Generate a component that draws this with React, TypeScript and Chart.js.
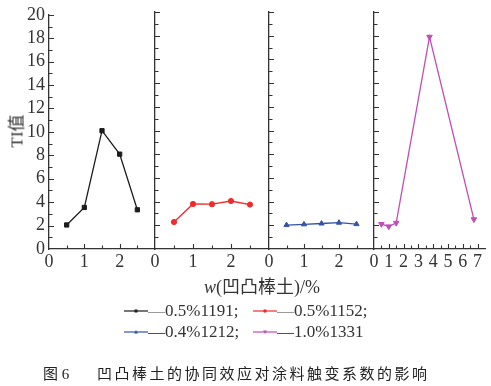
import React, { useEffect, useRef } from "react";
import { Chart, registerables } from "chart.js";
Chart.register(...registerables);

// ---------- data ----------
const SERIES_NAMES = ["0.5%1191", "0.5%1152", "0.4%1212", "1.0%1331"];
const X1 = [0.5, 1, 1.5, 2, 2.5];
const Y1 = [2.05, 3.55, 10.1, 8.1, 3.35];
const X2 = [0.5, 1, 1.5, 2, 2.5];
const Y2 = [2.28, 3.8, 3.78, 4.05, 3.75];
const X3 = [0.5, 1, 1.5, 2, 2.5];
const Y3 = [2.02, 2.08, 2.15, 2.22, 2.1];
const X4 = [0.5, 1, 1.5, 3.75, 6.75];
const Y4 = [2.1, 1.9, 2.2, 17.9, 2.5];
const XS = [X1, X2, X3, X4];
const YS = [Y1, Y2, Y3, Y4];

const X_MAX = [3, 3, 3, 7.5];
const X_LABELS = [
  [0, 1, 2],
  [0, 1, 2],
  [0, 1, 2],
  [0, 1, 2, 3, 4, 5, 6, 7],
];
const X_TICKMARKS = [
  [0.5, 1, 1.5, 2, 2.5],
  [0.5, 1, 1.5, 2, 2.5],
  [0.5, 1, 1.5, 2, 2.5],
  [0.5, 1, 1.5, 2, 2.5, 3, 3.5, 4, 4.5, 5, 5.5, 6, 6.5, 7],
];
const Y_MIN = 0;
const Y_MAX = 20;
const Y_STEP = 2;
const Y_TICKMARKS = [1, 2, 3, 4, 5, 6, 7, 8, 9, 10, 11, 12, 13, 14, 15, 16, 17, 18, 19, 20];

const Y_TITLE = "TI值";
const X_TITLE_ITALIC = "w";
const X_TITLE_REST = "(凹凸棒土)/%";
const CAPTION_NUM = "图 6";
const CAPTION_TEXT = "凹凸棒土的协同效应对涂料触变系数的影响";

// ---------- styles ----------
const W = 491;
const H = 386;
const PANEL_LEFT = [49, 155, 269, 374];
const PANEL_RIGHT = [155, 269, 374, 485];
const PLOT_TOP = 12;
const PLOT_BOTTOM = 249;
const COLORS = ["#1c1c1c", "#ef2b2b", "#3553a8", "#c24cb9"];
const POINT_STYLES = ["rect", "circle", "triangle", "triangle"];
const POINT_ROT = [0, 0, 0, 180];
const POINT_R = [3, 2.6, 3, 3.2];
const AXIS = "#333333";
const SERIF = "'Liberation Serif', 'Times New Roman', serif";
const CJK = "'Liberation Serif', 'Noto Sans CJK SC', sans-serif";

const inTicks = {
  id: "inTicks",
  afterDraw(chart: any, _args: any, opts: any) {
    const { ctx, chartArea } = chart;
    const xs = chart.scales.x;
    const ys = chart.scales.y;
    ctx.save();
    ctx.strokeStyle = AXIS;
    ctx.lineWidth = 1.1;
    ctx.beginPath();
    for (const v of opts.xTicks as number[]) {
      const px = Math.round(xs.getPixelForValue(v)) + 0.5;
      const len = Number.isInteger(v) ? 5 : 3.5;
      ctx.moveTo(px, chartArea.bottom);
      ctx.lineTo(px, chartArea.bottom - len);
    }
    for (const v of Y_TICKMARKS) {
      const py = Math.round(ys.getPixelForValue(v)) + 0.5;
      const len = v % 2 === 0 ? 5 : 3.5;
      ctx.moveTo(chartArea.left, py);
      ctx.lineTo(chartArea.left + len, py);
    }
    ctx.stroke();
    ctx.restore();
  },
};

function PanelChart({ idx }: { idx: number }) {
  const ref = useRef<HTMLCanvasElement>(null);
  useEffect(() => {
    const left = PANEL_LEFT[idx];
    const right = PANEL_RIGHT[idx];
    const yW = idx === 0 ? 49 : 2;
    const tickFont = { family: SERIF, size: 18 };
    const chart = new Chart(ref.current as HTMLCanvasElement, {
      type: "line",
      data: {
        datasets: [
          {
            label: SERIES_NAMES[idx],
            data: XS[idx].map((x, i) => ({ x, y: YS[idx][i] })),
            borderColor: COLORS[idx],
            backgroundColor: COLORS[idx],
            pointBackgroundColor: COLORS[idx],
            pointBorderColor: COLORS[idx],
            pointStyle: POINT_STYLES[idx] as any,
            pointRotation: POINT_ROT[idx],
            pointRadius: POINT_R[idx],
            pointBorderWidth: 1,
            borderWidth: 1.3,
            tension: 0,
            fill: false,
          },
        ],
      },
      options: {
        responsive: false,
        animation: false,
        events: [],
        layout: { padding: { left: left - yW, right: W - right, top: PLOT_TOP, bottom: 0 } },
        plugins: {
          legend: { display: false },
          tooltip: { enabled: false },
          inTicks: { xTicks: X_TICKMARKS[idx] },
        } as any,
        scales: {
          x: {
            type: "linear",
            min: 0,
            max: X_MAX[idx],
            grid: { display: false, drawTicks: false },
            border: { display: true, color: AXIS, width: 1.3 },
            ticks: { font: tickFont, color: "#333", padding: 2, autoSkip: false, maxRotation: 0 },
            afterBuildTicks: (s: any) => {
              s.ticks = X_LABELS[idx].map((v) => ({ value: v }));
            },
            afterFit: (s: any) => {
              s.height = H - PLOT_BOTTOM;
            },
          },
          y: {
            type: "linear",
            min: Y_MIN,
            max: Y_MAX,
            grid: { display: false, drawTicks: false },
            border: { display: true, color: AXIS, width: 1.3 },
            ticks: {
              display: idx === 0,
              stepSize: Y_STEP,
              autoSkip: false,
              font: tickFont,
              color: "#333",
              padding: 4,
            },
            afterFit: (s: any) => {
              s.width = yW;
            },
          },
        },
      } as any,
      plugins: [inTicks as any],
    });
    return () => chart.destroy();
  }, [idx]);
  return (
    <canvas
      ref={ref}
      width={W}
      height={H}
      style={{ position: "absolute", left: 0, top: 0, width: W, height: H }}
    />
  );
}

function LegendMarker({ idx }: { idx: number }) {
  const c = COLORS[idx];
  let m: any = null;
  if (idx === 0) m = <rect x={10.5} y={3.5} width={3} height={3} fill={c} />;
  else if (idx === 1) m = <circle cx={12} cy={5} r={1.8} fill={c} />;
  else if (idx === 2) m = <polygon points="12,3 14,6.5 10,6.5" fill={c} />;
  else m = <polygon points="12,7 14,3.5 10,3.5" fill={c} />;
  return (
    <svg width={24} height={10} style={{ display: "inline-block", verticalAlign: "middle" }}>
      <line x1={0} y1={5} x2={24} y2={5} stroke={c} strokeWidth={1.2} />
      {m}
    </svg>
  );
}

const LEG_X = [124, 253];
const LEG_Y = [311, 332];

export default function App() {
  return (
    <div style={{ position: "absolute", left: 0, top: 0, width: W, height: H, background: "#fff", overflow: "hidden" }}>
      {[0, 1, 2, 3].map((i) => (
        <PanelChart key={i} idx={i} />
      ))}
      <div
        style={{
          position: "absolute",
          left: 15,
          top: 131,
          transform: "translate(-50%, -50%) rotate(-90deg)",
          whiteSpace: "nowrap",
          fontFamily: CJK,
          fontSize: 17,
          color: "#333",
        }}
      >
        {Y_TITLE}
      </div>
      <div
        style={{
          position: "absolute",
          left: 262,
          top: 285,
          transform: "translate(-50%, -50%)",
          whiteSpace: "nowrap",
          fontFamily: CJK,
          fontSize: 18,
          color: "#333",
        }}
      >
        <span style={{ fontStyle: "italic", fontFamily: SERIF }}>{X_TITLE_ITALIC}</span>
        {X_TITLE_REST}
      </div>
      {SERIES_NAMES.map((name, i) => {
        const col = i % 2;
        const row = Math.floor(i / 2);
        return (
          <div
            key={name + i}
            style={{
              position: "absolute",
              left: LEG_X[col],
              top: LEG_Y[row],
              transform: "translateY(-50%)",
              whiteSpace: "nowrap",
              fontFamily: SERIF,
              fontSize: 17,
              color: "#333",
              lineHeight: "18px",
              display: "flex",
              alignItems: "center",
            }}
          >
            <LegendMarker idx={i} />
            <span style={{ color: row === 0 ? "#8a8a8a" : "#333" }}>—</span>
            <span>{name + (i < SERIES_NAMES.length - 1 ? ";" : "")}</span>
          </div>
        );
      })}
      <div
        style={{
          position: "absolute",
          left: 43,
          top: 372,
          transform: "translateY(-50%)",
          whiteSpace: "nowrap",
          fontFamily: CJK,
          fontSize: 15,
          color: "#222",
        }}
      >
        {CAPTION_NUM}
      </div>
      <div
        style={{
          position: "absolute",
          left: 97,
          top: 372,
          transform: "translateY(-50%)",
          whiteSpace: "nowrap",
          fontFamily: "'Noto Sans CJK SC', sans-serif",
          fontSize: 15,
          letterSpacing: 2.5,
          color: "#222",
        }}
      >
        {CAPTION_TEXT}
      </div>
    </div>
  );
}
